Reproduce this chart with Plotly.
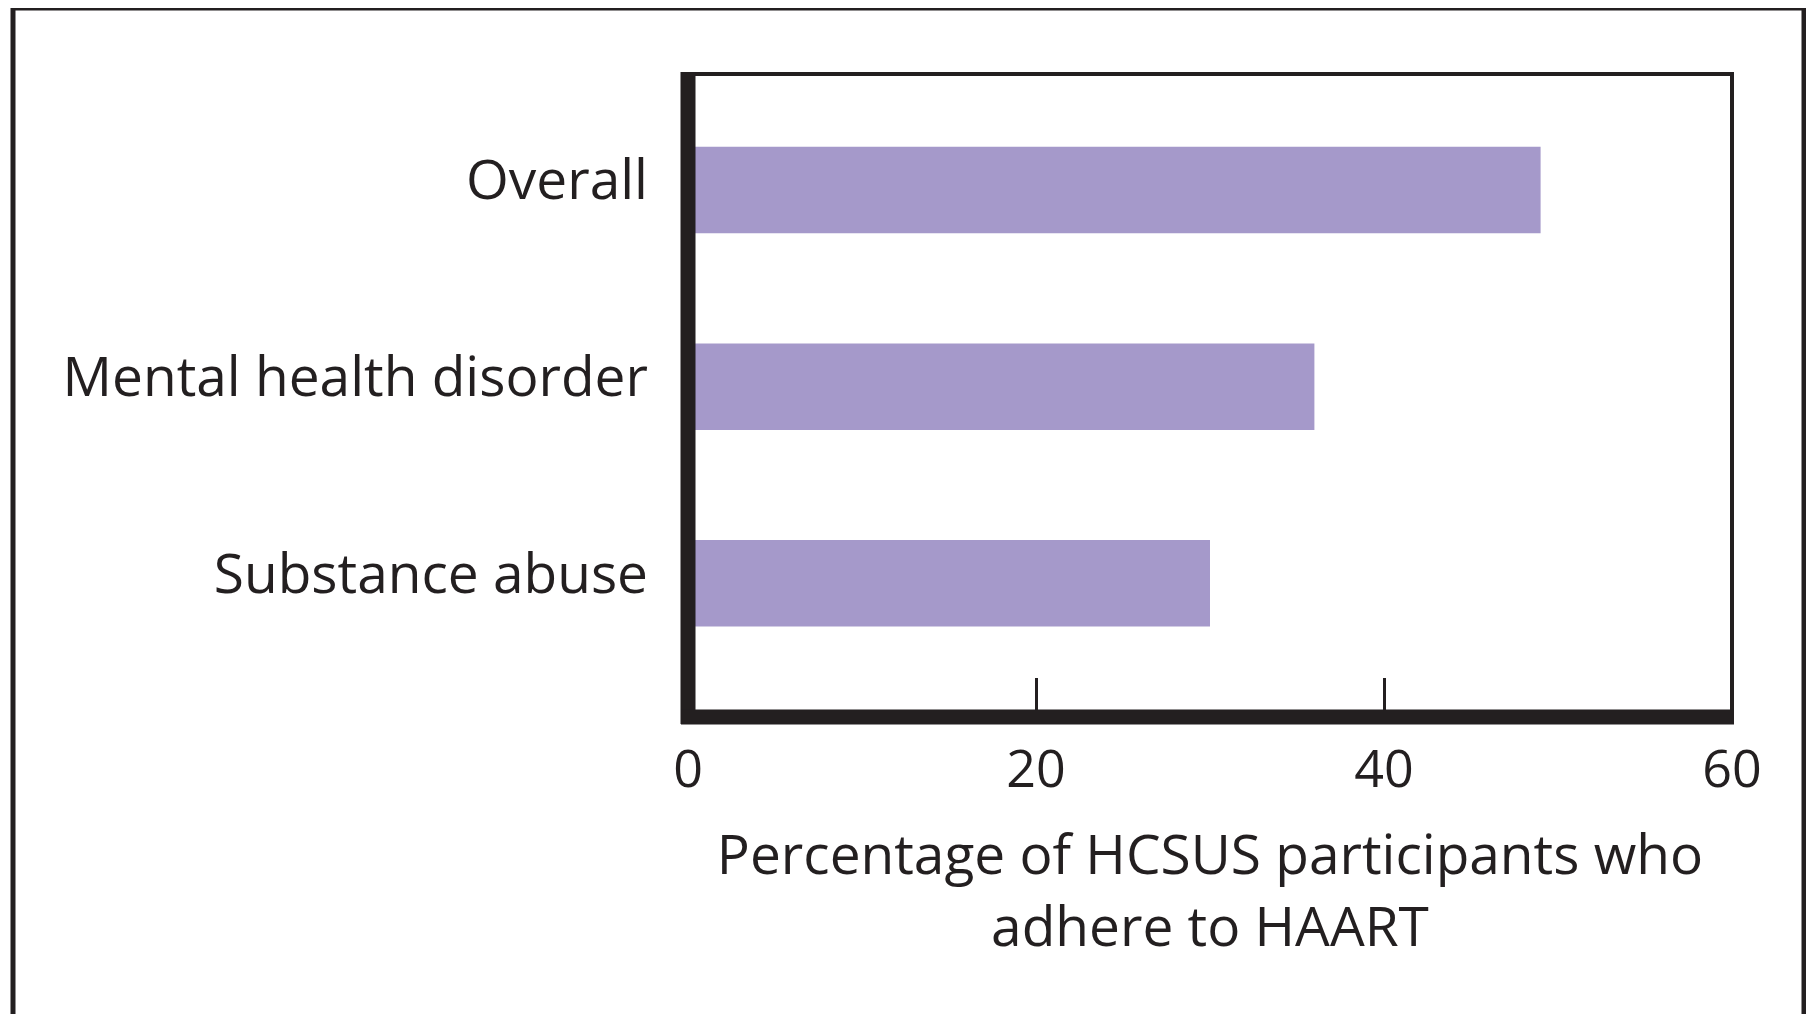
import plotly.graph_objects as go

categories = ["Overall", "Mental health disorder", "Substance abuse"]
values = [49, 36, 30]
x_ticks = [0, 20, 40, 60]
x_title = "Percentage of HCSUS participants who<br>adhere to HAART"

INK = "#231F20"
BAR = "#A599CA"

W, H = 1806, 1006
ML, MR, MT, MB = 680, 82, 66, 297
PW = W - ML - MR
PH = H - MT - MB


def px(x):
    return (x - ML) / PW


def py(y):
    return (H - MB - y) / PH


fig = go.Figure(go.Bar(
    x=values, y=categories, orientation="h",
    marker=dict(color=BAR, line=dict(width=0)),
    width=0.44,
))

frame_path = "M %f %f L %f %f L %f %f L %f %f" % (
    px(5), py(H + 50), px(5), py(0), px(1796), py(0), px(1796), py(H + 50))

fig.update_layout(
    width=W, height=H,
    margin=dict(l=ML, r=MR, t=MT, b=MB),
    paper_bgcolor="white", plot_bgcolor="white",
    showlegend=False,
    font=dict(family="Open Sans", color=INK),
    xaxis=dict(
        range=[0, 60], tickvals=x_ticks, ticktext=[str(v) for v in x_ticks],
        showgrid=False, zeroline=False, showline=False,
        ticks="inside", ticklen=39, tickwidth=3, tickcolor=INK,
        ticklabelstandoff=17,
        tickfont=dict(size=52, family="Open Sans", color=INK),
        title=dict(text=x_title, font=dict(size=55, family="Open Sans", color=INK), standoff=34),
    ),
    yaxis=dict(
        categoryorder="array", categoryarray=categories,
        range=[2.68, -0.59],
        showgrid=False, zeroline=False, showline=False,
        ticks="", ticklabelstandoff=39, ticklabelshift=10,
        tickfont=dict(size=55, family="Open Sans", color=INK),
    ),
    shapes=[
        dict(type="rect", xref="paper", yref="paper", x0=0, x1=1, y0=0, y1=1,
             line=dict(color=INK, width=4), layer="above"),
        dict(type="line", xref="paper", yref="paper", x0=0, x1=0, y0=py(H - MB + 7), y1=py(MT - 2),
             line=dict(color=INK, width=15), layer="above"),
        dict(type="line", xref="paper", yref="paper", x0=px(ML - 7), x1=px(W - MR + 2), y0=0, y1=0,
             line=dict(color=INK, width=15), layer="above"),
        dict(type="path", xref="paper", yref="paper", path=frame_path,
             line=dict(color=INK, width=5)),
    ],
)

fig.write_html("out.html")
